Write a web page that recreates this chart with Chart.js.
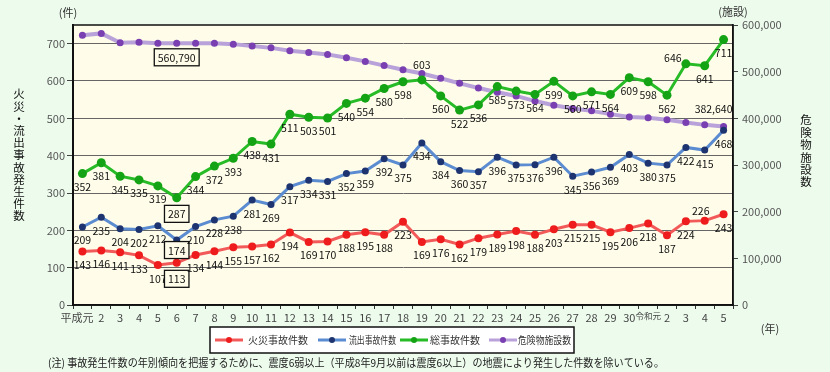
<!DOCTYPE html>
<html lang="ja">
<head>
<meta charset="utf-8">
<title>危険物施設における事故発生件数</title>
<script src="https://cdn.jsdelivr.net/npm/chart.js@4.4.1/dist/chart.umd.min.js"></script>
<style>
html, body { margin: 0; padding: 0; background: #edfbed; }
#wrap { position: relative; width: 830px; height: 372px; }
</style>
</head>
<body>
<div id="wrap"><canvas id="accChart" width="830" height="372"></canvas></div>
<script>
// 年（平成元年〜令和5年）
const years = ['平成元', '2', '3', '4', '5', '6', '7', '8', '9', '10',
  '11', '12', '13', '14', '15', '16', '17', '18', '19', '20',
  '21', '22', '23', '24', '25', '26', '27', '28', '29', '30',
  '令和元', '2', '3', '4', '5'];

// 火災事故件数
const fireCount = [143, 146, 141, 133, 107, 113, 134, 144, 155, 157,
  162, 194, 169, 170, 188, 195, 188, 223, 169, 176,
  162, 179, 189, 198, 188, 203, 215, 215, 195, 206,
  218, 187, 224, 226, 243];

// 流出事故件数
const leakCount = [209, 235, 204, 202, 212, 174, 210, 228, 238, 281,
  269, 317, 334, 331, 352, 359, 392, 375, 434, 384,
  360, 357, 396, 375, 376, 396, 345, 356, 369, 403,
  380, 375, 422, 415, 468];

// 総事故件数
const totalCount = [352, 381, 345, 335, 319, 287, 344, 372, 393, 438,
  431, 511, 503, 501, 540, 554, 580, 598, 603, 560,
  522, 536, 585, 573, 564, 599, 560, 571, 564, 609,
  598, 562, 646, 641, 711];

// 危険物施設数
const facilities = [578000, 582000, 562000, 563000, 561000, 560790, 561000, 561000, 559000, 555000,
  551000, 545000, 541000, 537000, 530000, 522000, 513000, 504000, 496000, 486000,
  475000, 465000, 456000, 448000, 437000, 428000, 421000, 416000, 409000, 403000,
  401000, 397000, 391000, 386000, 382640];

// 軸の目盛
const leftTicks = [0, 100, 200, 300, 400, 500, 600, 700];
const rightTicks = [0, 100000, 200000, 300000, 400000, 500000, 600000];

const FONT = "'Noto Sans CJK JP', sans-serif";
Chart.defaults.font.family = FONT;

// ラベルの位置ずらし [dx, dy]（指定がなければ点の下）
const labelShift = {
  fire: { 5: [0, 16], 33: [-4, -10] },
  leak: { 5: [0, 10] },
  total: { 5: [0, 16], 18: [0, -15], 32: [-13, -6] },
  facility: { 5: [0, 14], 34: [-10, -18] }
};

const labelPlugin = {
  id: 'pointLabels',
  beforeDraw(chart) {
    const ctx = chart.ctx, a = chart.chartArea;
    ctx.save();
    ctx.fillStyle = '#fffde9';
    ctx.fillRect(a.left, a.top, a.right - a.left, a.bottom - a.top);
    ctx.restore();
  },
  afterDatasetsDraw(chart) {
    const ctx = chart.ctx, a = chart.chartArea;
    ctx.save();
    ctx.strokeStyle = '#111';
    ctx.lineWidth = 1.5;
    ctx.strokeRect(a.left, a.top, a.right - a.left, a.bottom - a.top);

    ctx.font = '10.5px ' + FONT;
    ctx.textAlign = 'center';
    ctx.textBaseline = 'middle';
    chart.data.datasets.forEach((ds, di) => {
      const meta = chart.getDatasetMeta(di);
      meta.data.forEach((pt, i) => {
        if (ds.labelAt && !ds.labelAt.includes(i)) return;
        const s = (labelShift[ds.key] || {})[i] || [0, 13];
        const text = ds.data[i].toLocaleString('en-US');
        const x = pt.x + s[0], y = pt.y + s[1];
        if (i === 5) {
          const w = ctx.measureText(text).width + 7;
          ctx.fillStyle = '#fffde9';
          ctx.fillRect(x - w / 2, y - 8.5, w, 17);
          ctx.strokeStyle = '#111';
          ctx.lineWidth = 1.3;
          ctx.strokeRect(x - w / 2, y - 8.5, w, 17);
        }
        ctx.fillStyle = '#111';
        ctx.fillText(text, x, y + 0.5);
      });
    });
    ctx.restore();
  },
  afterDraw(chart) {
    const ctx = chart.ctx;
    ctx.save();
    ctx.fillStyle = '#333';
    ctx.textBaseline = 'middle';
    ctx.textAlign = 'center';

    // 軸タイトル
    ctx.font = '11px ' + FONT;
    ctx.fillText('(件)', 68, 13);
    ctx.fillText('(施設)', 733, 12);
    ctx.fillText('(年)', 770, 329);
    ctx.font = '11.5px ' + FONT;
    ctx.fillStyle = '#111';
    '火災・流出事故発生件数'.split('').forEach((c, i) => ctx.fillText(c, 19, 94 + i * 12.2));
    '危険物施設数'.split('').forEach((c, i) => ctx.fillText(c, 806, 120 + i * 12.4));

    // 凡例
    ctx.fillStyle = '#fff';
    ctx.fillRect(210, 327, 364, 26);
    ctx.strokeStyle = '#111';
    ctx.lineWidth = 1.5;
    ctx.strokeRect(210, 327, 364, 26);
    // [線の開始x, 文字の開始x, 文字幅]
    const items = [[215, 248, 62], [318, 349, 47], [400, 430, 52], [489, 518, 53]];
    ctx.font = '10px ' + FONT;
    ctx.textAlign = 'left';
    chart.data.datasets.forEach((ds, di) => {
      const [sx, tx, tw] = items[di];
      ctx.strokeStyle = ds.borderColor;
      ctx.lineWidth = 3;
      ctx.beginPath();
      ctx.moveTo(sx, 340);
      ctx.lineTo(sx + 28, 340);
      ctx.stroke();
      ctx.fillStyle = ds.pointBackgroundColor;
      ctx.beginPath();
      ctx.arc(sx + 14, 340, 3, 0, Math.PI * 2);
      ctx.fill();
      ctx.fillStyle = '#333';
      ctx.fillText(ds.label, tx, 340.5, tw);
    });

    // 注記
    ctx.font = '11px ' + FONT;
    ctx.fillStyle = '#222';
    ctx.fillText('(注) 事故発生件数の年別傾向を把握するために、震度6弱以上（平成8年9月以前は震度6以上）の地震により発生した件数を除いている。', 48, 363, 616);
    ctx.restore();
  }
};

new Chart(document.getElementById('accChart'), {
  type: 'line',
  data: {
    labels: years,
    datasets: [
      {
        key: 'fire', label: '火災事故件数', data: fireCount, yAxisID: 'y',
        borderColor: '#f25a5a', pointBackgroundColor: '#ee1c1c',
        borderWidth: 3, pointRadius: 4, pointBorderWidth: 0
      },
      {
        key: 'leak', label: '流出事故件数', data: leakCount, yAxisID: 'y',
        borderColor: '#5b8bd0', pointBackgroundColor: '#1d3470',
        borderWidth: 3, pointRadius: 3.5, pointBorderWidth: 0
      },
      {
        key: 'total', label: '総事故件数', data: totalCount, yAxisID: 'y',
        borderColor: '#27bb27', pointBackgroundColor: '#14a314',
        borderWidth: 3, pointRadius: 4.5, pointBorderWidth: 0
      },
      {
        key: 'facility', label: '危険物施設数', data: facilities, yAxisID: 'y2',
        borderColor: '#b9a1d9', pointBackgroundColor: '#7a40b2',
        borderWidth: 4, pointRadius: 3.5, pointBorderWidth: 0,
        labelAt: [5, 34]
      }
    ]
  },
  options: {
    responsive: false,
    animation: false,
    devicePixelRatio: 1,
    layout: { padding: { top: 25, left: 0, right: 0, bottom: 0 } },
    plugins: { legend: { display: false }, tooltip: { enabled: false } },
    elements: { line: { tension: 0 } },
    scales: {
      x: {
        offset: true,
        afterFit: (s) => { s.height = 67; },
        grid: { offset: true, drawOnChartArea: false, tickLength: 4, tickColor: '#333' },
        border: { color: '#111', width: 1.5 },
        ticks: {
          autoSkip: false, maxRotation: 0, padding: 2, color: '#444',
          font: (c) => ({ family: FONT, size: c.index === 30 ? 8.5 : 11 }),
          callback: (v, i) => (i === 0 ? years[i] + '\u2003' : years[i])
        }
      },
      y: {
        position: 'left',
        min: 0, max: 750,
        afterFit: (s) => { s.width = 73; },
        afterBuildTicks: (s) => { s.ticks = leftTicks.map(v => ({ value: v })); },
        grid: { color: '#666', lineWidth: 1, tickLength: 6, tickColor: '#444' },
        border: { color: '#111', width: 2 },
        ticks: { padding: 2, color: '#555', font: { size: 11 } }
      },
      y2: {
        position: 'right',
        min: 0, max: 600000,
        afterFit: (s) => { s.width = 97; },
        afterBuildTicks: (s) => { s.ticks = rightTicks.map(v => ({ value: v })); },
        grid: { drawOnChartArea: false, tickLength: 5, tickColor: '#444' },
        border: { color: '#111', width: 1.5 },
        ticks: {
          padding: 4, color: '#555', font: { size: 11 },
          callback: (v) => v.toLocaleString('en-US')
        }
      }
    }
  },
  plugins: [labelPlugin]
});
</script>
</body>
</html>
